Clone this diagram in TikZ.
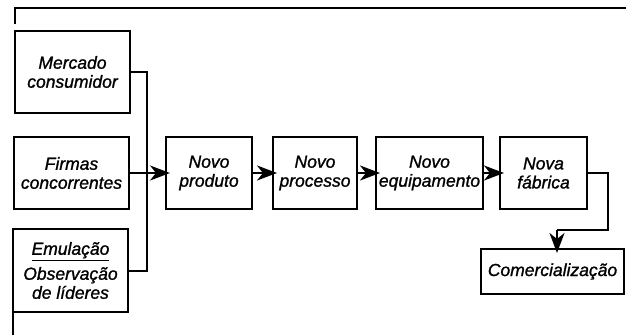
\documentclass[tikz,border=0pt]{standalone}
\usepackage{fontspec}
\setmainfont{Liberation Sans}[ItalicFeatures={FakeBold=1.2}]
\usepackage{tikz}
\usetikzlibrary{arrows.meta,positioning}

\tikzset{
  box/.style={draw,line width=2pt,align=center,inner sep=2pt,
    font=\itshape\fontsize{17.5}{19}\selectfont},
  conn/.style={line width=2pt},
  flow/.style={conn,shorten >=-5pt,-{Stealth[length=20pt,width=15pt,inset=6pt]}},
  frame/.style={line width=1.3pt}
}

\begin{document}
\begin{tikzpicture}[x=1pt,y=1pt]
\useasboundingbox (0,0) rectangle (626,335);
% frame corners
\draw[frame] (15,311) -- (15,327) -- (626,327);
\draw[frame] (13,22) -- (13,0);

% Sources
\node[box,minimum width=115pt,minimum height=82pt] (mercado) at (72.5,263) {Mercado\\consumidor};
\node[box,minimum width=115pt,minimum height=71pt] (firmas) at (71.5,162) {Firmas\\concorrentes};
\node[box,minimum width=115pt,minimum height=83pt] (emulacao) at (70.5,64.5)
  {\underline{Emulação}\\[6pt]Observação\\de líderes};
\coordinate (join) at (147,162);
\draw[conn] (mercado.east) -| (join);
\draw[conn] (emulacao.east) -| (join);

% Chain
\node[box,minimum width=86pt,minimum height=72pt] (produto) at (209,162) {Novo\\produto};
\node[box,minimum width=84pt,minimum height=72pt] (processo) at (315,162) {Novo\\processo};
\node[box,minimum width=107pt,minimum height=72pt] (equip) at (429.5,162) {Novo\\equipamento};
\node[box,minimum width=87pt,minimum height=72pt] (fabrica) at (543.5,162) {Nova\\fábrica};
\draw[flow] (firmas.east) -- (produto.west);
\draw[flow] (produto.east) -- (processo.west);
\draw[flow] (processo.east) -- (equip.west);
\draw[flow] (equip.east) -- (fabrica.west);

% Output
\node[box,minimum width=143pt,minimum height=45pt] (comerc) at (552.5,63.5) {Comercialização};
\coordinate (turn) at (608,105);
\coordinate (drop) at (557,105);
\draw[conn] (fabrica.east) -| (turn) -- (drop);
\draw[flow] (drop) -- (drop |- comerc.north);
\end{tikzpicture}
\end{document}
